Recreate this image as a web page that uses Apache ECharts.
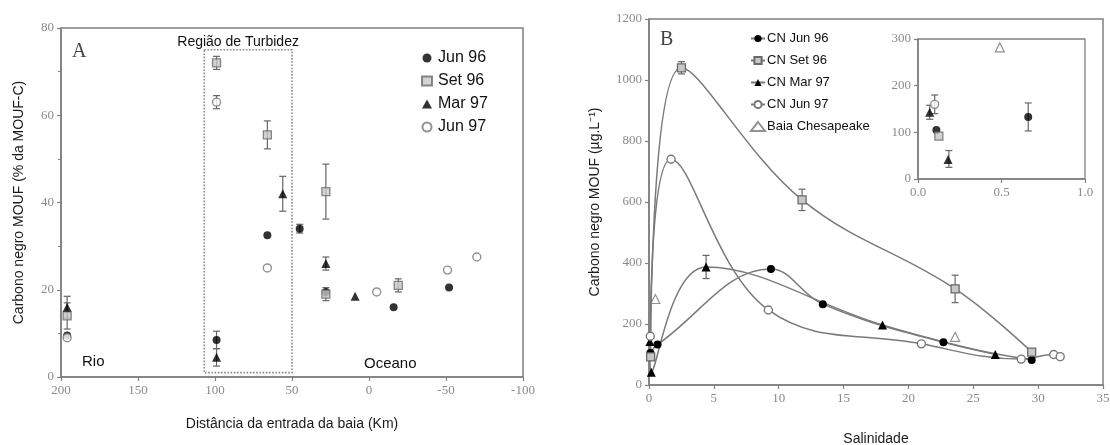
<!DOCTYPE html>
<html><head><meta charset="utf-8">
<script src="https://cdn.jsdelivr.net/npm/echarts@6/dist/echarts.min.js"></script>
<style>html,body{margin:0;padding:0;background:#fff}#c{width:1110px;height:445px}</style>
</head><body><div id="c"></div>
<script>
// ---------- Panel A: distance from bay entrance (km) vs % of MOUF-C ----------
const aJun96 = [[196, 9.5], [99, 8.5], [66, 32.5], [45, 34], [28, 19.5], [-16, 16], [-52, 20.5]];
const aSet96 = [[196, 14], [99, 72], [66, 55.5], [28, 42.5], [28, 19], [-19, 21]];
const aMar97 = [[196, 16], [99, 4.5], [56, 42], [28, 26], [9, 18.5]];
const aJun97 = [[196, 9], [99, 63], [66, 25], [-5, 19.5], [-51, 24.5], [-70, 27.5]];
// error bars: [x, y, +/-]
const aErr = [[196, 14, 3], [196, 16, 2.5], [99, 72, 1.5], [99, 63, 1.5], [99, 8.5, 2], [99, 4.5, 2],
              [66, 55.5, 3.2], [56, 42, 4], [28, 42.5, 6.3], [28, 19, 1.5], [28, 26, 1.5], [45, 34, 1], [-19, 21, 1.5]];
const turbidBox = [107, 75, 50, 1];   // x1, yTop, x2, yBottom (data units)

// ---------- Panel B: salinity vs black carbon (ug/L) ----------
const bJun96 = [[0.11, 105], [0.66, 133], [9.4, 380], [13.4, 265], [22.7, 140], [29.5, 82]];
const bSet96 = [[0.125, 92], [2.5, 1040], [11.8, 607], [23.6, 315], [29.5, 108]];
const bMar97 = [[0.07, 143], [0.18, 42], [4.4, 387], [18, 197], [26.7, 100]];
const bJun97 = [[0.1, 160], [1.7, 740], [9.2, 246], [21, 135], [28.7, 85], [31.2, 100], [31.7, 93]];
const bChes  = [[0.49, 282], [23.6, 158]];
const bErr   = [[2.5, 1040, 20], [11.8, 607, 35], [23.6, 315, 45], [4.4, 387, 38]];
const insetErr = [[0.07, 143, 15], [0.1, 160, 20], [0.185, 43, 18], [0.66, 133, 30]];

const GRAY = '#808080';
const tickFont = {fontFamily: 'Liberation Serif', color: '#8a8a8a', fontSize: 13};
const nameFont = {fontFamily: 'Liberation Sans', color: '#1a1a1a', fontSize: 14};

function axisBase(extra) {
  return Object.assign({
    type: 'value',
    axisLine: {show: true, onZero: false, lineStyle: {color: GRAY, width: 1.6}},
    axisTick: {show: true, inside: false, length: 4, lineStyle: {color: GRAY, width: 1.2}},
    axisLabel: Object.assign({margin: 7, formatter: v => String(v)}, tickFont),
    splitLine: {show: false},
    nameTextStyle: nameFont
  }, extra);
}

function errSeries(xi, yi, data) {
  return {
    type: 'custom', xAxisIndex: xi, yAxisIndex: yi, data: data, silent: true, z: 1,
    encode: {x: 0, y: 1},
    renderItem: function (params, api) {
      const x = api.value(0), y = api.value(1), e = api.value(2);
      const t = api.coord([x, y + e]), b = api.coord([x, y - e]);
      const w = 3.5, st = {stroke: '#666', lineWidth: 1.2};
      return {type: 'group', children: [
        {type: 'line', shape: {x1: t[0], y1: t[1], x2: b[0], y2: b[1]}, style: st},
        {type: 'line', shape: {x1: t[0] - w, y1: t[1], x2: t[0] + w, y2: t[1]}, style: st},
        {type: 'line', shape: {x1: b[0] - w, y1: b[1], x2: b[0] + w, y2: b[1]}, style: st}
      ]};
    }
  };
}

const styleJun96 = {symbol: 'circle', symbolSize: 8, itemStyle: {color: '#000'}};
const styleSet96 = {symbol: 'rect', symbolSize: 8, itemStyle: {color: '#c8c8c8', borderColor: '#6a6a6a', borderWidth: 1.3}};
const styleMar97 = {symbol: 'triangle', symbolSize: 9, itemStyle: {color: '#000'}};
const styleJun97 = {symbol: 'circle', symbolSize: 8, itemStyle: {color: '#fff', borderColor: '#777', borderWidth: 1.4}};
const styleChes  = {symbol: 'triangle', symbolSize: 9, itemStyle: {color: '#fff', borderColor: '#777', borderWidth: 1.2}};

const lineStyleB = {color: '#7a7a7a', width: 1.5};
function lineB(name, data, st) {
  return Object.assign({type: 'line', name: name, xAxisIndex: 1, yAxisIndex: 1, data: data,
    smooth: 0.4, showSymbol: true, lineStyle: lineStyleB, z: 3}, st);
}
function scat(name, xi, data, st) {
  return Object.assign({type: 'scatter', name: name, xAxisIndex: xi, yAxisIndex: xi, data: data, z: 4}, st);
}
const lowSal = d => d.filter(p => p[0] <= 1);

const gridBase = {show: true, borderColor: GRAY, containLabel: false, outerBoundsMode: 'none'};
const option = {
  backgroundColor: '#fff',
  animation: false,
  grid: [
    Object.assign({left: 61, top: 28, width: 462, height: 349, borderWidth: 1.5}, gridBase),
    Object.assign({left: 649, top: 19, width: 454, height: 366, borderWidth: 1.5}, gridBase),
    Object.assign({left: 918, top: 39, width: 167, height: 140, borderWidth: 1.3}, gridBase)
  ],
  xAxis: [
    axisBase({gridIndex: 0, min: -100, max: 200, interval: 50, inverse: true,
      name: 'Distância da entrada da baia (Km)', nameLocation: 'middle', nameGap: 40}),
    axisBase({gridIndex: 1, min: 0, max: 35, interval: 5,
      name: 'Salinidade', nameLocation: 'middle', nameGap: 47}),
    axisBase({gridIndex: 2, min: 0, max: 1, interval: 0.5,
      axisLabel: Object.assign({margin: 7, formatter: v => v.toFixed(1)}, tickFont)})
  ],
  yAxis: [
    axisBase({gridIndex: 0, min: 0, max: 80, interval: 20,
      minorTick: {show: true, splitNumber: 2, length: 3, lineStyle: {color: GRAY}},
      name: 'Carbono negro MOUF (% da MOUF-C)', nameLocation: 'middle', nameGap: 35}),
    axisBase({gridIndex: 1, min: 0, max: 1200, interval: 200,
      name: 'Carbono negro MOUF (µg.L⁻¹)', nameLocation: 'middle', nameGap: 47}),
    axisBase({gridIndex: 2, min: 0, max: 300, interval: 100})
  ],
  legend: [
    {data: ['Jun 96', 'Set 96', 'Mar 97', 'Jun 97'], orient: 'vertical', left: 416, top: 45,
      itemWidth: 10, itemHeight: 9, itemGap: 7, selectedMode: false,
      textStyle: {fontFamily: 'Liberation Sans', fontSize: 16, color: '#111', padding: [0, 0, 0, 1]}},
    {data: ['CN Jun 96', 'CN Set 96', 'CN Mar 97', 'CN Jun 97', 'Baia Chesapeake'], orient: 'vertical',
      left: 745, top: 27, itemWidth: 14, itemHeight: 9, itemGap: 9, selectedMode: false,
      textStyle: {fontFamily: 'Liberation Sans', fontSize: 13, color: '#111', padding: [0, 0, 0, -3]}}
  ],
  graphic: [
    {type: 'text', left: 72, top: 42, style: {text: 'A', font: '20px "Liberation Serif"', fill: '#444'}},
    {type: 'text', left: 660, top: 30, style: {text: 'B', font: '20px "Liberation Serif"', fill: '#444'}},
    {type: 'text', left: 82, top: 354, style: {text: 'Rio', font: '15px "Liberation Sans"', fill: '#111'}},
    {type: 'text', left: 364, top: 356, style: {text: 'Oceano', font: '15px "Liberation Sans"', fill: '#111'}}
  ],
  series: [
    // Panel A
    errSeries(0, 0, aErr),
    Object.assign(scat('Jun 96', 0, aJun96, styleJun96), {
      markArea: {silent: true,
        itemStyle: {color: 'rgba(0,0,0,0)', borderColor: '#8a8a8a', borderWidth: 1.6, borderType: 'dotted'},
        label: {show: true, position: 'top', distance: 0, offset: [-10, 0], formatter: 'Região de Turbidez',
          fontFamily: 'Liberation Sans', fontSize: 14, color: '#111'},
        data: [[{coord: [turbidBox[0], turbidBox[1]]}, {coord: [turbidBox[2], turbidBox[3]]}]]}
    }),
    scat('Set 96', 0, aSet96, styleSet96),
    scat('Mar 97', 0, aMar97, styleMar97),
    scat('Jun 97', 0, aJun97, styleJun97),
    // Panel B
    errSeries(1, 1, bErr),
    lineB('CN Jun 96', bJun96, styleJun96),
    lineB('CN Set 96', bSet96, styleSet96),
    lineB('CN Mar 97', bMar97, styleMar97),
    lineB('CN Jun 97', bJun97, styleJun97),
    scat('Baia Chesapeake', 1, bChes, styleChes),
    // Inset
    errSeries(2, 2, insetErr),
    scat('in1', 2, lowSal(bJun96), styleJun96),
    scat('in2', 2, lowSal(bSet96), styleSet96),
    scat('in3', 2, lowSal(bMar97), styleMar97),
    scat('in4', 2, lowSal(bJun97), styleJun97),
    scat('in5', 2, lowSal(bChes), styleChes)
  ]
};
const chart = echarts.init(document.getElementById('c'), null, {renderer: 'canvas'});
chart.setOption(option);
</script></body></html>
